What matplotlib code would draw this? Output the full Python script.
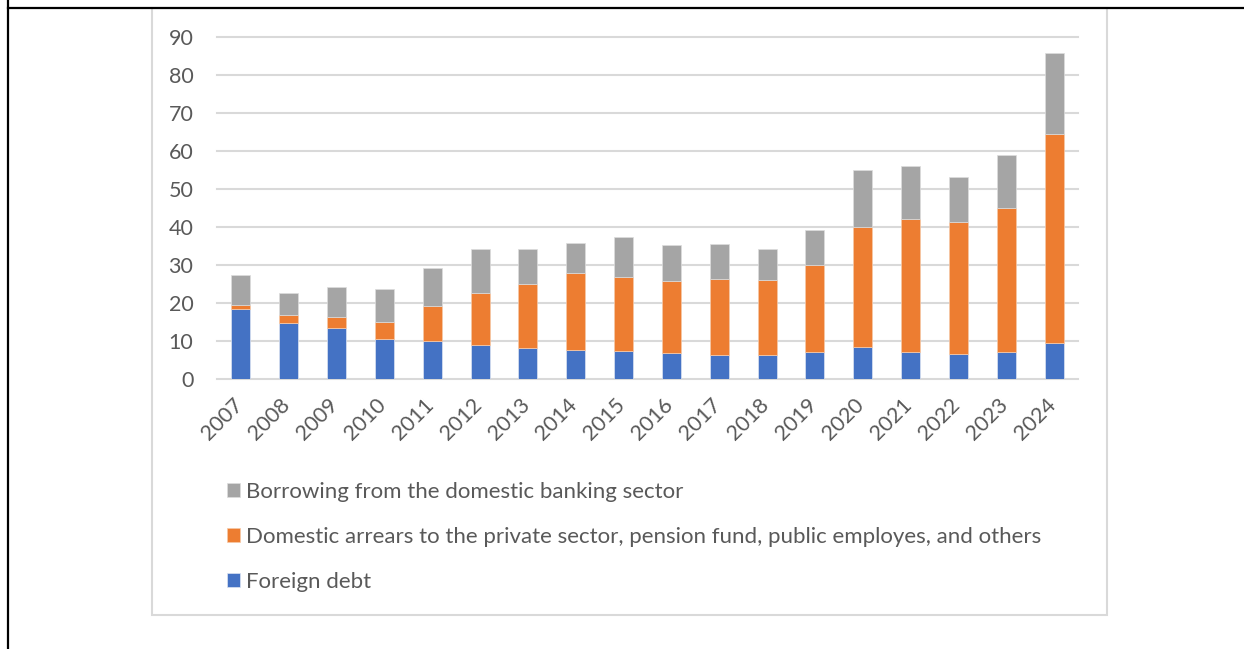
import matplotlib
matplotlib.use("Agg")
import matplotlib.pyplot as plt
import matplotlib.transforms as mtransforms
from matplotlib.patches import Rectangle
from matplotlib.lines import Line2D
import numpy as np

years = [str(y) for y in range(2007, 2025)]
foreign_debt = [18.5, 14.8, 13.3, 10.6, 9.9, 8.9, 8.1, 7.7, 7.5, 6.8, 6.3, 6.2, 7.0, 8.3, 7.2, 6.7, 7.2, 9.6]
domestic_arrears = [1.0, 2.0, 3.0, 4.5, 9.4, 13.8, 16.8, 20.1, 19.4, 19.1, 20.0, 19.8, 22.9, 31.6, 34.8, 34.7, 37.9, 55.0]
bank_borrowing = [7.8, 5.8, 8.0, 8.7, 9.8, 11.4, 9.3, 8.1, 10.5, 9.3, 9.3, 8.3, 9.2, 15.0, 14.0, 11.7, 13.8, 21.1]
y_ticks = [0, 10, 20, 30, 40, 50, 60, 70, 80, 90]

labels = {
    "bank": "Borrowing from the domestic banking sector",
    "arrears": "Domestic arrears to the private sector, pension fund, public employes, and others",
    "foreign": "Foreign debt",
}
colors = {"foreign": "#4472C4", "arrears": "#ED7D31", "bank": "#A5A5A5"}
text_color = "#595959"
grid_color = "#D9D9D9"

plt.rcParams["font.family"] = ["Lato", "DejaVu Sans"]

W, H = 1244, 649
fig = plt.figure(figsize=(W / 100, H / 100), dpi=100)

# page frame lines (table cell border)
fig.add_artist(Line2D([8 / W, 8 / W], [0, 1], color="black", lw=1.6, transform=fig.transFigure))
fig.add_artist(Line2D([8 / W, 1], [1 - 8 / H, 1 - 8 / H], color="black", lw=1.6, transform=fig.transFigure))

# chart area border
fig.add_artist(Rectangle((152 / W, 1 - 615 / H), (1107 - 152) / W, (615 - 8) / H,
                         transform=fig.transFigure, fill=False, edgecolor=grid_color, lw=1.5))

ax = fig.add_axes([217 / W, 1 - 379 / H, (1078 - 217) / W, (379 - 37) / H])

x = np.arange(len(years))
f = np.array(foreign_debt)
a = np.array(domestic_arrears)
b = np.array(bank_borrowing)
bw = 0.4
h_f = ax.bar(x, f, bw, color=colors["foreign"], edgecolor="#DCE4F2", linewidth=0.5, zorder=3)
h_a = ax.bar(x, a, bw, bottom=f, color=colors["arrears"], edgecolor="#F6C9A8", linewidth=0.5, zorder=3)
h_b = ax.bar(x, b, bw, bottom=f + a, color=colors["bank"], edgecolor="#DDDDDD", linewidth=0.5, zorder=3)

ax.set_xlim(-0.5, len(years) - 0.5)
ax.set_ylim(0, 90)
ax.set_yticks(y_ticks)
ax.set_xticks(x)
ax.set_xticklabels(years, rotation=45, ha="right", va="top")
ax.tick_params(axis="both", length=0, labelsize=15.5, colors=text_color)
ax.tick_params(axis="y", pad=17)
ax.tick_params(axis="x", pad=11)
# nudge the rotated year labels so their ends sit under the bar centres
shift = mtransforms.ScaledTranslation(4 / 72, 0, fig.dpi_scale_trans)
for lbl in ax.get_xticklabels():
    lbl.set_transform(lbl.get_transform() + shift)
for s in ax.spines.values():
    s.set_visible(False)
ax.yaxis.grid(True, color=grid_color, lw=1.5, zorder=0)
for gl in ax.get_ygridlines():
    gl.set_clip_on(False)

leg = fig.legend([h_b, h_a, h_f], [labels["bank"], labels["arrears"], labels["foreign"]],
                 loc="upper left", bbox_to_anchor=(218 / W, 1 - 473 / H),
                 frameon=False, fontsize=16, labelcolor=text_color,
                 handlelength=0.58, handleheight=0.58, handletextpad=0.3,
                 labelspacing=1.13, borderaxespad=0)

fig.savefig("out.png", dpi=100)
